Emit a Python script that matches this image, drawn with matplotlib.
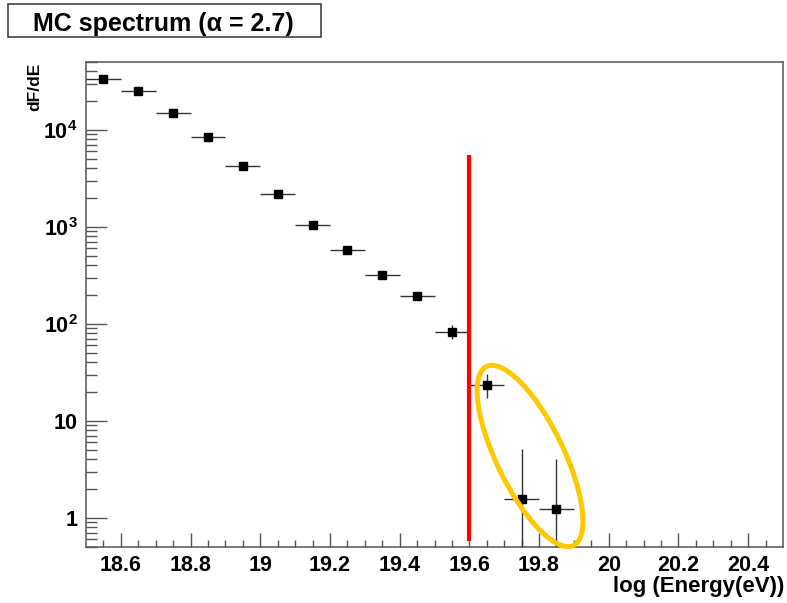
import numpy as np
import matplotlib
matplotlib.use("Agg")
import matplotlib.pyplot as plt
from matplotlib.ticker import FixedLocator, FuncFormatter, LogLocator, NullFormatter
from matplotlib.patches import Ellipse, Rectangle
from matplotlib.transforms import Affine2D

plt.rcParams["font.family"] = ["Liberation Sans", "DejaVu Sans"]
plt.rcParams["font.weight"] = "bold"
plt.rcParams["mathtext.fontset"] = "custom"
plt.rcParams["mathtext.rm"] = "Liberation Sans:bold"
plt.rcParams["mathtext.bf"] = "Liberation Sans:bold"
plt.rcParams["mathtext.it"] = "Liberation Sans:bold"

# Simulated spectrum: bin centres in log10(E/eV), flux and its uncertainty
log_energy = [18.55, 18.65, 18.75, 18.85, 18.95, 19.05, 19.15,
              19.25, 19.35, 19.45, 19.55, 19.65, 19.75, 19.85]
flux = [33200, 25200, 15000, 8400, 4250, 2180, 1050,
        580, 320, 194, 83, 23.6, 1.56, 1.23]
flux_err = [260, 220, 170, 130, 90, 65, 45,
            50, 33, 20, 14, 6.5, 3.5, 2.8]
bin_half_width = 0.05

cut_energy = 19.6
cut_span = [0.57, 5500]

x_ticks = [18.6, 18.8, 19.0, 19.2, 19.4, 19.6, 19.8, 20.0, 20.2, 20.4]
x_range = (18.5, 20.5)
y_range = (0.5, 5e4)

W, H, DPI = 787, 603, 100
fig = plt.figure(figsize=(W / DPI, H / DPI), dpi=DPI)
ax = fig.add_axes([86 / W, 1 - 547 / H, (783 - 86) / W, (547 - 62) / H])

ax.set_yscale("log")
ax.set_xlim(*x_range)
ax.set_ylim(*y_range)

y = np.array(flux, dtype=float)
e = np.array(flux_err, dtype=float)
lower = np.minimum(e, y - 1e-3)
ax.errorbar(log_energy, y, yerr=[lower, e], xerr=bin_half_width,
            fmt="s", color="black", markersize=5.2, ecolor="#333333",
            elinewidth=1.0, capsize=0, zorder=3)

ax.plot([cut_energy, cut_energy], cut_span, color="#ff0000", lw=3.0,
        solid_capstyle="butt", zorder=4)

# axes styling
frame_col = "#555555"
for s in ax.spines.values():
    s.set_color(frame_col)
    s.set_linewidth(1.1)

ax.xaxis.set_major_locator(FixedLocator(x_ticks))
ax.xaxis.set_minor_locator(FixedLocator(np.arange(18.55, 20.5, 0.05)))
ax.xaxis.set_major_formatter(FuncFormatter(lambda v, p: f"{v:g}"))
ax.yaxis.set_major_locator(LogLocator(base=10, numticks=10))
ax.yaxis.set_minor_locator(LogLocator(base=10, subs=np.arange(2, 10), numticks=20))
ax.yaxis.set_minor_formatter(NullFormatter())


def ylab(v, p):
    k = int(round(np.log10(v)))
    if k < 0:
        return ""
    if k <= 1:
        return str(10 ** k)
    return r"$\mathbf{10^{%d}}$" % k


ax.yaxis.set_major_formatter(FuncFormatter(ylab))
ax.tick_params(axis="both", which="both", direction="in", color=frame_col,
               width=1.0, labelsize=15.5, top=False, right=False)
ax.tick_params(axis="x", which="major", length=10, pad=6)
ax.tick_params(axis="x", which="minor", length=5)
ax.tick_params(axis="y", which="major", length=15, pad=6)
ax.tick_params(axis="y", which="minor", length=8)
for lab in ax.get_xticklabels() + ax.get_yticklabels():
    lab.set_fontweight("bold")

# axis titles
fig.text(35 / W, 1 - 63 / H, "dF/dE", rotation=90, ha="center", va="top",
         fontsize=12.5, fontweight="bold")
fig.text(784 / W, 1 - 592 / H, "log (Energy(eV))", ha="right", va="baseline",
         fontsize=16, fontweight="bold")

# title box
fig.patches.append(Rectangle((8 / W, 1 - 37 / H), (321 - 8) / W, (37 - 4) / H,
                             transform=fig.transFigure, fill=False,
                             edgecolor="#333333", lw=1.1))
fig.text(163.5 / W, 1 - 30.7 / H, "MC spectrum (\u03b1 = 2.7)", ha="center",
         va="baseline", fontsize=18, fontweight="bold")

# highlight around the highest-energy bins
px = Affine2D().scale(1 / DPI) + fig.dpi_scale_trans
ring = Ellipse((530, H - 456), width=199, height=67, angle=-64.1,
               transform=px, fill=False, edgecolor="#FFC800", lw=3.6,
               clip_on=False, zorder=5)
ax.add_patch(ring)

fig.savefig("out.png", dpi=DPI)
